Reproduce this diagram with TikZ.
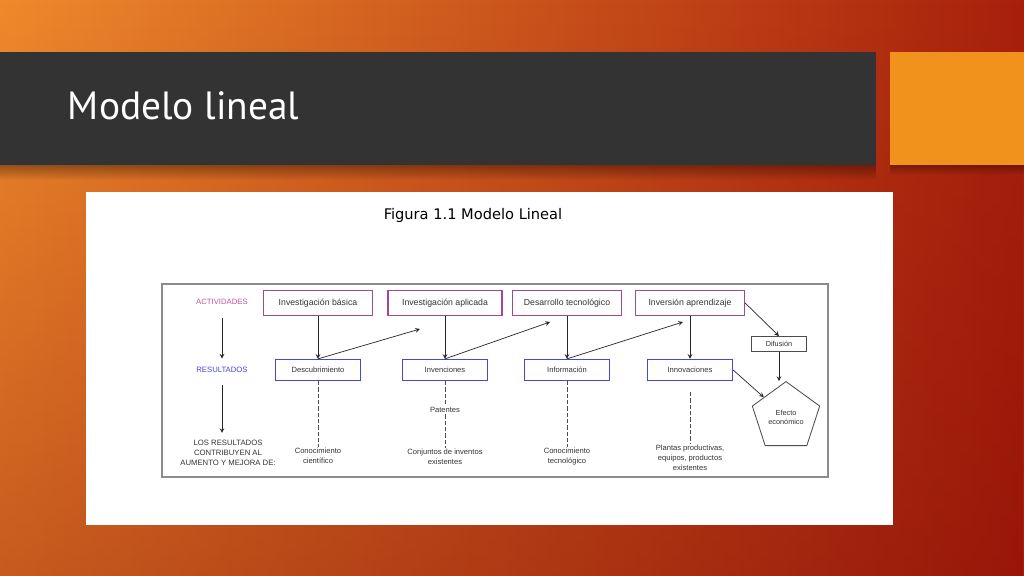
\documentclass[tikz,border=0pt]{standalone}
\usepackage{fontspec}
\setmainfont{Liberation Sans}
\newfontfamily\titlefont{PT Sans}
\newfontfamily\capfont{DejaVu Sans}
\usetikzlibrary{shapes.geometric,fadings}

\definecolor{slideleft}{HTML}{EE8A2C}
\definecolor{slideright}{HTML}{A8200C}
\definecolor{bottomred}{HTML}{7A0505}
\definecolor{barcol}{HTML}{333333}
\definecolor{accent}{HTML}{F0921C}
\definecolor{framecol}{HTML}{8C8C8C}
\definecolor{actcol}{HTML}{A0479A}
\definecolor{acttext}{HTML}{C3569B}
\definecolor{rescol}{HTML}{4848D0}
\definecolor{inktext}{HTML}{333333}

\tikzset{
  rowlabel/.style={font=\fontsize{5.5}{7.1}\selectfont, inner sep=1pt},
  actbox/.style={draw=actcol, line width=0.9pt, minimum width=2.725cm, minimum height=0.625cm,
    inner sep=0pt, text=inktext, font=\fontsize{6.2}{7.5}\selectfont},
  resbox/.style={draw=rescol, line width=0.9pt, minimum width=2.125cm, minimum height=0.525cm,
    inner sep=0pt, text=inktext, font=\fontsize{5.4}{7}\selectfont},
  difbox/.style={draw=black!70, line width=0.6pt, minimum width=1.375cm, minimum height=0.375cm,
    inner sep=0pt, text=inktext, font=\fontsize{5.2}{6.5}\selectfont},
  effect/.style={regular polygon, regular polygon sides=5, minimum size=1.77cm, draw=black!70,
    line width=0.6pt, inner sep=0pt, align=center, text=inktext, font=\fontsize{5.2}{6.5}\selectfont},
  lowtext/.style={font=\fontsize{5.4}{7.1}\selectfont, align=center, text=inktext, inner sep=1pt},
  link/.style={->, black!85, line width=0.5pt},
  trace/.style={black!70, line width=0.5pt, dash pattern=on 3pt off 1.5pt}
}

\begin{document}
\begin{tikzpicture}[x=0.025cm, y=-0.025cm, >=stealth]
  % Fix the page
  \useasboundingbox (0,0) rectangle (1024,576);

  % Slide background
  \shade[left color=slideleft, right color=slideright] (0,0) rectangle (1024,576);
  \fill[bottomred, opacity=0.35, path fading=north] (0,0) rectangle (1024,576);

  % Title bar and accent square
  \fill[black, opacity=0.35, path fading=south] (0,165) rectangle (876,180);
  \fill[black, opacity=0.3, path fading=south] (890,165) rectangle (1024,175);
  \fill[barcol] (0,52) rectangle (876,165);
  \fill[accent] (890,52) rectangle (1024,165);
  \node[anchor=base west, text=white, font=\titlefont\fontsize{28}{30}\selectfont] (title) at (63,120) {Modelo lineal};

  % White panel, caption and frame
  \fill[white] (86,192) rectangle (893,525);
  \node[font=\capfont\fontsize{10.4}{12}\selectfont] (fig) at (473,215) {Figura 1.1 Modelo Lineal};
  \draw[framecol, line width=0.8pt] (162,284) rectangle (828,477);

  % Row labels
  \node[rowlabel, text=acttext] (act) at (222,302) {ACTIVIDADES};
  \node[rowlabel, text=rescol] (res) at (222,370) {RESULTADOS};
  \node[rowlabel, align=center, text=inktext] (contrib) at (228,453) {LOS RESULTADOS\\CONTRIBUYEN AL\\AUMENTO Y MEJORA DE:};

  % Activity boxes
  \node[actbox] (A1) at (318,303) {Investigación básica};
  \node[actbox, minimum width=2.85cm] (A2) at (445,303) {Investigación aplicada};
  \node[actbox] (A3) at (567,303) {Desarrollo tecnológico};
  \node[actbox] (A4) at (690,303) {Inversión aprendizaje};

  % Result boxes
  \node[resbox] (R1) at (318,370) {Descubrimiento};
  \node[resbox] (R2) at (445,370) {Invenciones};
  \node[resbox] (R3) at (567,370) {Información};
  \node[resbox] (R4) at (690,370) {Innovaciones};

  % Diffusion and effect
  \node[difbox] (dif) at (779,344) {Difusión};
  \node[effect] (eff) at (786,417) {Efecto\\económico};

  % Lower texts
  \node[lowtext] (pat) at (445,410) {Patentes};
  \node[lowtext] (L1) at (318,456) {Conocimiento\\científico};
  \node[lowtext] (L2) at (445,457) {Conjuntos de inventos\\existentes};
  \node[lowtext] (L3) at (567,457) {Conocimiento\\tecnológico};
  \node[lowtext] (L4) at (690,458) {Plantas productivas,\\equipos, productos\\existentes};

  % Free ends
  \coordinate (d1) at (420,329);
  \coordinate (d2) at (550,322);
  \coordinate (d3) at (683,322);
  \coordinate (s4) at (690,392);

  % Row arrows
  \draw[link, shorten <=8pt, shorten >=5pt] (act) -- (res);
  \draw[link, shorten <=7.5pt, shorten >=4pt] (res) -- (res |- contrib.north);

  % Activity to result
  \draw[link] (A1) -- (R1);
  \draw[link] (A2) -- (R2);
  \draw[link] (A3) -- (R3);
  \draw[link] (A4) -- (R4);

  % Result feeds next activity
  \draw[link] (R1.north) -- (d1);
  \draw[link] (R2.north) -- (d2);
  \draw[link] (R3.north) -- (d3);

  % Towards the economic effect
  \draw[link] (A4.east) -- (dif.north);
  \draw[link] (dif.south) -- (eff.north -| dif.south);
  \draw[link] (R4.east) -- (eff);

  % Dashed traces
  \draw[trace] (R1.south) -- (L1.north);
  \draw[trace] (R2.south) -- (pat.north);
  \draw[trace] (pat.south) -- (L2.north);
  \draw[trace] (R3.south) -- (L3.north);
  \draw[trace] (s4) -- (L4.north);
\end{tikzpicture}
\end{document}
